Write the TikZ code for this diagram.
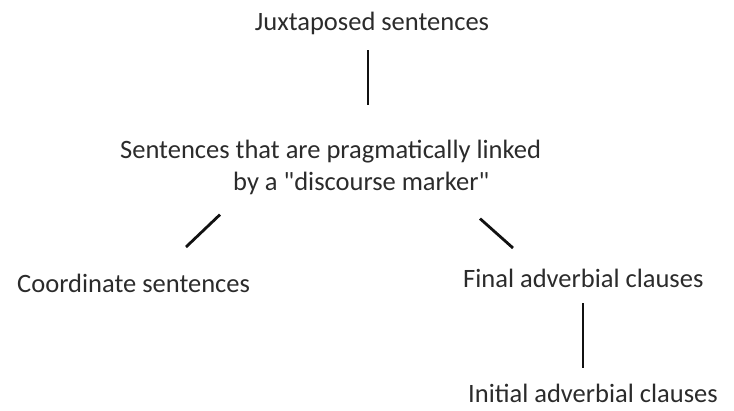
\documentclass[tikz,border=0pt]{standalone}
\usepackage{fontspec}
\setmainfont{Carlito}
\definecolor{inkgray}{HTML}{2B2B2B}
\definecolor{linkblack}{HTML}{111111}
\usepackage{tikz}
\usetikzlibrary{positioning, calc}
\tikzset{
  lbl/.style={
    inner sep=0pt, text=inkgray, align=left,
    font=\fontsize{26.5}{31.8}\selectfont
  },
  link/.style={draw=linkblack, line width=2.8pt},
}

\begin{document}
\begin{tikzpicture}[x=1pt, y=-1pt]
    \useasboundingbox (0,0) rectangle (734,410);

    \node[lbl, anchor=base] (juxt) at (372,30) {Juxtaposed sentences};

    % base of a two-line node sits on its last line
    \node[lbl, anchor=base west] (prag) at (120,190)
      {Sentences that are pragmatically linked\\\hspace*{113pt}by a \textquotedbl discourse marker\textquotedbl};

    \node[lbl, anchor=base west] (coord) at (17,292) {Coordinate sentences};
    \node[lbl, anchor=base west] (final) at (463,287) {Final adverbial clauses};
    \node[lbl, anchor=base west] (initial) at (468,402) {Initial adverbial clauses};

    \draw[link] ([shift={(-4,20)}]juxt.base) -- ([shift={(248,-35)}]prag.north west);
    \draw[link] ([shift={(100,75)}]prag.north west) -- ([shift={(169,-45)}]coord.base west);
    \draw[link] ([shift={(360,79)}]prag.north west) -- ([shift={(50,-39)}]final.base west);
    \draw[link] ([shift={(120,16)}]final.base west) -- ([shift={(115,-34)}]initial.base west);
\end{tikzpicture}
\end{document}
